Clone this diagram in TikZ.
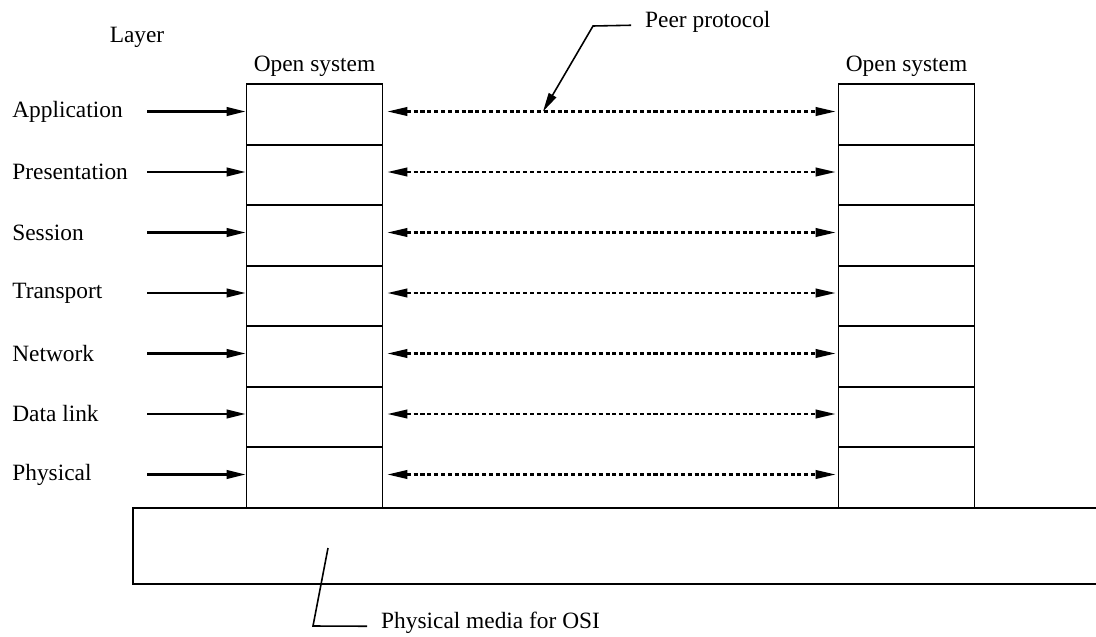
\documentclass[tikz,border=0pt]{standalone}
\usepackage{fontspec}
\setmainfont{Liberation Serif}
\usetikzlibrary{arrows.meta}
\tikzset{
  osibox/.style={draw, line width=1pt, minimum width=2.72cm, minimum height=1.211cm, inner sep=0pt},
  layername/.style={anchor=west, inner sep=0pt},
  feed/.style={line width=1.4pt, -{Triangle[length=0.38cm,width=0.17cm]}},
  peerline/.style={line width=1.3pt, dash pattern=on 2.3pt off 1.6pt,
    {Triangle[length=0.4cm,width=0.17cm]}-{Triangle[length=0.4cm,width=0.17cm]},
    shorten <=0.08cm, shorten >=0.04cm},
  callout/.style={line width=0.9pt},
}
\begin{document}
\begin{tikzpicture}[x=0.02cm, y=-0.02cm, font=\fontsize{13.3}{16}\selectfont]
        \useasboundingbox (0,0) rectangle (1096,636);

        % Headings
        \node (layerhead) at (137,37) {Layer};
        \node (lsys) at (314.5,66) {Open system};
        \node (rsys) at (906.5,66) {Open system};

        % Left open system
        \node[osibox] (l1) at (314.5,114.3) {};
        \node[osibox] (l2) at (314.5,174.9) {};
        \node[osibox] (l3) at (314.5,235.4) {};
        \node[osibox] (l4) at (314.5,296.0) {};
        \node[osibox] (l5) at (314.5,356.6) {};
        \node[osibox] (l6) at (314.5,417.1) {};
        \node[osibox] (l7) at (314.5,477.7) {};

        % Right open system
        \node[osibox] (r1) at (906.5,114.3) {};
        \node[osibox] (r2) at (906.5,174.9) {};
        \node[osibox] (r3) at (906.5,235.4) {};
        \node[osibox] (r4) at (906.5,296.0) {};
        \node[osibox] (r5) at (906.5,356.6) {};
        \node[osibox] (r6) at (906.5,417.1) {};
        \node[osibox] (r7) at (906.5,477.7) {};

        % Layer names
        \node[layername] (app) at (12,111.5) {Application};
        \node[layername] (pres) at (12,172) {Presentation};
        \node[layername] (sess) at (12,232.5) {Session};
        \node[layername] (trans) at (12,293) {Transport};
        \node[layername] (net) at (12,353.5) {Network};
        \node[layername] (dlink) at (12,414) {Data link};
        \node[layername] (phys) at (12,474.5) {Physical};

        % Arrows into the left stack
        \coordinate (feedstart) at (147,0);
        \draw[feed] (app -| feedstart) -- (app -| l1.west);
        \draw[feed] (pres -| feedstart) -- (pres -| l2.west);
        \draw[feed] (sess -| feedstart) -- (sess -| l3.west);
        \draw[feed] (trans -| feedstart) -- (trans -| l4.west);
        \draw[feed] (net -| feedstart) -- (net -| l5.west);
        \draw[feed] (dlink -| feedstart) -- (dlink -| l6.west);
        \draw[feed] (phys -| feedstart) -- (phys -| l7.west);

        % Peer protocols between the stacks
        \draw[peerline] (app -| l1.east) -- (app -| r1.west);
        \draw[peerline] (pres -| l2.east) -- (pres -| r2.west);
        \draw[peerline] (sess -| l3.east) -- (sess -| r3.west);
        \draw[peerline] (trans -| l4.east) -- (trans -| r4.west);
        \draw[peerline] (net -| l5.east) -- (net -| r5.west);
        \draw[peerline] (dlink -| l6.east) -- (dlink -| r6.west);
        \draw[peerline] (phys -| l7.east) -- (phys -| r7.west);

        % Physical media
        \draw[line width=1pt] (1096,508) -- (133,508) -- (133,584) -- (1096,584);

        % Peer protocol callout
        \node[anchor=base west] (peer) at (639,27) {Peer protocol};
        \coordinate (peerbend) at (593,26);
        \coordinate (peertip) at (app -| 543,0);
        \draw[callout, -{Triangle[length=0.38cm,width=0.17cm]}] ([xshift=-4.5pt,yshift=1pt]peer.base west) -- (peerbend) -- (peertip);

        % Physical media callout
        \node[anchor=base west] (media) at (375,628) {Physical media for OSI};
        \coordinate (mediabend) at (313,626);
        \coordinate (mediatip) at (328,548);
        \draw[callout] ([xshift=-4.5pt,yshift=1pt]media.base west) -- (mediabend) -- (mediatip);
    \end{tikzpicture}
\end{document}
